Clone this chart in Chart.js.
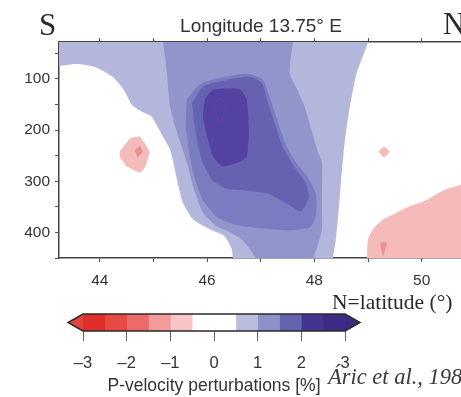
<!DOCTYPE html>
<html>
<head>
<meta charset="utf-8">
<script src="https://cdn.jsdelivr.net/npm/chart.js@4.4.0/dist/chart.umd.min.js"></script>
<style>
body { margin: 0; background: #fff; overflow: hidden; width: 461px; height: 397px; position: relative; }
#map { position: absolute; left: 0; top: 0; }
#bar { position: absolute; left: 0; top: 300px; }
</style>
</head>
<body>
<canvas id="map" width="500" height="315"></canvas>
<canvas id="bar" width="500" height="97"></canvas>
<script>
var lvl05 = [[43.07,0],[49.00,0],[49.00,28],[48.79,88],[48.66,155],[48.57,219],[48.51,283],[48.46,349],[48.40,414],[48.35,449],[48.35,470],[46.48,470],[46.48,453],[46.46,433],[46.33,408],[46.05,394],[45.74,375],[45.55,342],[45.44,297],[45.36,258],[45.31,238],[45.21,219],[45.08,194],[44.97,174],[44.78,164],[44.60,151],[44.50,131],[44.41,116],[44.24,96],[43.91,77],[43.57,71],[43.24,75],[43.07,75]];
var lvl10 = [[45.18,0],[47.60,0],[47.60,28],[47.54,88],[47.68,121],[47.82,155],[47.96,205],[48.05,238],[48.14,264],[48.14,336],[48.14,394],[48.07,423],[47.99,449],[47.99,470],[47.04,470],[46.93,453],[46.80,433],[46.65,414],[46.43,400],[46.18,388],[45.92,361],[45.74,310],[45.62,262],[45.44,205],[45.31,155],[45.25,88],[45.18,28]];
var lvl15 = [[45.62,141],[45.87,110],[46.33,96],[46.76,90],[47.04,102],[47.17,137],[47.32,184],[47.47,229],[47.66,264],[47.88,293],[48.03,326],[48.03,365],[47.92,390],[47.54,396],[47.02,392],[46.57,386],[46.20,371],[45.92,336],[45.75,287],[45.66,238],[45.60,190]];
var lvl20 = [[45.72,147],[45.94,114],[46.37,102],[46.78,96],[47.02,108],[47.13,145],[47.28,192],[47.41,233],[47.62,271],[47.82,301],[47.90,330],[47.75,359],[47.51,345],[47.13,324],[46.72,318],[46.35,314],[46.09,297],[45.90,258],[45.79,209]];
var lvl25 = [[45.92,174],[45.96,141],[46.11,121],[46.61,120],[46.74,141],[46.78,199],[46.74,252],[46.56,264],[46.29,271],[46.11,252],[46.00,213]];
var lvl30 = [[46.11,153],[46.24,137],[46.37,153],[46.24,188],[46.11,153]];
var red05a = [[44.37,242],[44.56,217],[44.75,213],[44.93,242],[44.84,273],[44.75,283],[44.50,271],[44.37,252]];
var red10a = [[44.65,240],[44.75,230],[44.80,242],[44.71,254]];
var red05b = [[49.19,242],[49.30,232],[49.41,242],[49.30,254]];
var red05c = [[48.98,470],[48.98,451],[49.00,414],[49.09,394],[49.28,375],[49.54,361],[49.78,349],[50.10,336],[50.40,318],[50.75,307],[51.60,297],[51.60,470]];
var red10c = [[49.22,419],[49.36,420],[49.28,448]];

var latTicks = [44, 46, 48, 50];
var depthTicks = [100, 200, 300, 400];

// colour scale
var cbEdges = [-3, -2.5, -2, -1.5, -1, -0.5, 0.5, 1, 1.5, 2, 2.5, 3];
var cbColors = ['#df2f2b','#e74944','#ee6a69','#f39b9b','#f7c5c5','#ffffff','#bbbddf','#8e90ca','#6562b0','#45348f','#3d2b86'];
var cbTicks = [-3, -2, -1, 0, 1, 2, 3];

function toXY(pts) {
    return pts.map(function (p) { return { x: p[0], y: p[1] }; });
}

function area(pts, color, order, tension) {
    return {
        data: toXY(pts),
        backgroundColor: color,
        borderColor: 'rgba(0,0,0,0)',
        borderWidth: 0,
        pointRadius: 0,
        fill: 'shape',
        tension: tension,
        order: order
    };
}

var sans = '"Liberation Sans", Arial, sans-serif';
var serif = '"Liberation Serif", "Times New Roman", serif';

var labelsPlugin = {
    id: 'labels',
    afterDraw: function (chart) {
        var ctx = chart.ctx;
        ctx.save();
        ctx.fillStyle = '#333';
        ctx.textBaseline = 'alphabetic';
        ctx.textAlign = 'center';
        ctx.font = '19px ' + sans;
        ctx.fillText('Longitude 13.75° E', 261, 32);
        ctx.textAlign = 'left';
        ctx.fillStyle = '#2a2a2a';
        ctx.font = '31px ' + serif;
        ctx.fillText('S', 39, 35);
        ctx.fillText('N', 443, 34);
        ctx.font = '21.5px ' + serif;
        ctx.fillText('N=latitude (°)', 332, 309);
        ctx.restore();
    }
};

var axisGrid = { drawOnChartArea: false, tickLength: 4, color: '#555', tickWidth: 1 };
var axisBorder = { display: true, color: '#444', width: 1.5 };

new Chart(document.getElementById('map'), {
    type: 'line',
    data: {
        datasets: [
            area(lvl05, '#b4b7dc', 20, 0.2),
            area(lvl10, '#9295cc', 19, 0.2),
            area(lvl15, '#7a7bc1', 18, 0.2),
            area(lvl20, '#6661b1', 17, 0.2),
            area(lvl25, '#5442a0', 16, 0.15),
            { data: toXY(lvl30), borderColor: 'rgba(120,60,170,0.55)', borderWidth: 1, pointRadius: 0, fill: false, tension: 0, order: 15 },
            area(red05a, '#f5baba', 14, 0.1),
            area(red05b, '#f5baba', 14, 0),
            area(red05c, '#f5baba', 14, 0.2),
            area(red10a, '#ec8e92', 13, 0),
            area(red10c, '#ec8e92', 13, 0)
        ]
    },
    options: {
        responsive: false,
        animation: false,
        devicePixelRatio: 1,
        events: [],
        layout: { padding: { top: 38, left: 0, right: 0, bottom: 0 } },
        plugins: { legend: { display: false }, tooltip: { enabled: false } },
        scales: {
            x: {
                type: 'linear', position: 'bottom', min: 43.24, max: 51.46,
                afterFit: function (s) { s.height = 57; },
                ticks: {
                    stepSize: 1, includeBounds: false, autoSkip: false, maxRotation: 0, padding: 9,
                    color: '#333', font: { family: sans, size: 15.5 },
                    callback: function (v) { return latTicks.indexOf(v) >= 0 ? String(v) : ''; }
                },
                grid: axisGrid,
                border: axisBorder
            },
            xTop: {
                type: 'linear', position: 'top', min: 43.24, max: 51.46,
                afterFit: function (s) { s.height = 4; },
                ticks: { stepSize: 1, includeBounds: false, callback: function () { return ''; } },
                grid: axisGrid,
                border: axisBorder
            },
            y: {
                type: 'linear', reverse: true, min: 28, max: 450,
                afterFit: function (s) { s.width = 59; },
                ticks: {
                    stepSize: 50, includeBounds: false, padding: 5,
                    color: '#333', font: { family: sans, size: 15.5 },
                    callback: function (v) { return depthTicks.indexOf(v) >= 0 ? String(v) : ''; }
                },
                grid: axisGrid,
                border: axisBorder
            }
        }
    },
    plugins: [labelsPlugin]
});

// colour bar
var barSets = [];
for (var i = 0; i < cbColors.length; i++) {
    barSets.push({
        data: [[cbEdges[i], cbEdges[i + 1]]],
        backgroundColor: cbColors[i],
        borderWidth: 0,
        barPercentage: 1,
        categoryPercentage: 1
    });
}

var barPlugin = {
    id: 'barEnds',
    afterDatasetsDraw: function (chart) {
        var ctx = chart.ctx;
        var a = chart.chartArea;
        var mid = (a.top + a.bottom) / 2;
        ctx.save();
        ctx.fillStyle = '#e2443e';
        ctx.beginPath();
        ctx.moveTo(a.left, a.top); ctx.lineTo(a.left - 15, mid); ctx.lineTo(a.left, a.bottom);
        ctx.closePath(); ctx.fill();
        ctx.fillStyle = '#3a2a82';
        ctx.beginPath();
        ctx.moveTo(a.right, a.top); ctx.lineTo(a.right + 15, mid); ctx.lineTo(a.right, a.bottom);
        ctx.closePath(); ctx.fill();
        ctx.strokeStyle = '#2b2b2b';
        ctx.lineWidth = 1.5;
        ctx.beginPath();
        ctx.moveTo(a.left, a.top); ctx.lineTo(a.right, a.top); ctx.lineTo(a.right + 15, mid);
        ctx.lineTo(a.right, a.bottom); ctx.lineTo(a.left, a.bottom); ctx.lineTo(a.left - 15, mid);
        ctx.closePath(); ctx.stroke();
        ctx.fillStyle = '#3a3a3a';
        ctx.font = 'italic 22.5px ' + serif;
        ctx.textAlign = 'left';
        ctx.fillText('Áric et al., 1981', 328, 84);
        ctx.restore();
    }
};

new Chart(document.getElementById('bar'), {
    type: 'bar',
    data: { labels: ['dv'], datasets: barSets },
    options: {
        indexAxis: 'y',
        responsive: false,
        animation: false,
        devicePixelRatio: 1,
        events: [],
        grouped: false,
        layout: { padding: { top: 14, left: 83, right: 155, bottom: 0 } },
        plugins: { legend: { display: false }, tooltip: { enabled: false } },
        scales: {
            y: { display: false },
            x: {
                type: 'linear', min: -3, max: 3,
                afterFit: function (s) { s.height = 66; },
                ticks: {
                    stepSize: 1, padding: 13, color: '#333', font: { family: sans, size: 16.5 },
                    callback: function (v) { return cbTicks.indexOf(v) >= 0 ? (v < 0 ? '\u2013' + Math.abs(v) : String(v)) : ''; }
                },
                grid: { drawOnChartArea: false, tickLength: 10, color: '#666', tickWidth: 1 },
                border: { display: false },
                title: {
                    display: true, text: 'P-velocity perturbations [%]', color: '#333',
                    font: { family: sans, size: 17.5 }, padding: { top: 0, bottom: 0 }
                }
            }
        }
    },
    plugins: [barPlugin]
});
</script>
</body>
</html>
